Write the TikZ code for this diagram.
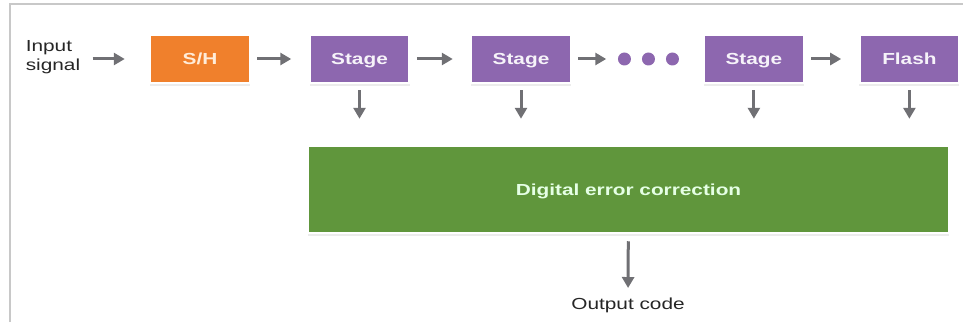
\documentclass[tikz,border=0pt]{standalone}
\usepackage{fontspec}
\setmainfont{Liberation Sans}[FakeStretch=1.3]
\usetikzlibrary{positioning,arrows.meta,shadows}
\definecolor{shorange}{RGB}{240,128,44}
\definecolor{stpurple}{RGB}{141,103,175}
\definecolor{decgreen}{RGB}{96,150,60}
\definecolor{arrowgray}{RGB}{112,112,116}
\definecolor{framegray}{RGB}{200,200,200}

\begin{document}
\begin{tikzpicture}[x=1pt,y=1pt,
  blk/.style={rectangle, minimum width=100pt, minimum height=48pt, draw=white,
    line width=2.5pt, drop shadow={opacity=0.15,shadow xshift=0pt,shadow yshift=-2.5pt},
    text height=11.5pt, text depth=0pt,
    font=\fontsize{16}{19}\selectfont\bfseries},
  shbox/.style={blk, fill=shorange, text=orange!15},
  stbox/.style={blk, fill=stpurple, text=stpurple!8},
  flow/.style={draw=arrowgray, line width=3pt, -{Triangle[length=11pt,width=12pt]},
    shorten <=6pt, shorten >=17pt},
  down/.style={flow, shorten >=26pt},
  lbl/.style={font=\fontsize{16}{19}\selectfont, text=black!85}
]
  \useasboundingbox (0,0) rectangle (963,322);
  % frame
  \draw[framegray, line width=2pt] (10,0) -- (10,318) -- (963,318);

  \node[lbl, align=left] (in) at (53,265) {Input\\signal};
  \node[shbox] (sh) at (200,263) {S/H};
  \node[stbox, right=57pt of sh] (s1) {Stage};
  \node[stbox, right=59pt of s1] (s2) {Stage};
  \node[minimum width=62pt, minimum height=12pt, right=45pt of s2] (dots) {};
  \foreach \i in {-24,0,24}
    \fill[stpurple] (dots.center) ++(\i,0) circle (6.5pt);
  \node[stbox, right=23pt of dots] (s3) {Stage};
  \node[stbox, right=53pt of s3] (fl) {Flash};

  \node[blk, fill=decgreen, text=green!10, minimum width=641pt, minimum height=87pt]
    (dec) at (628.5,132.5) {Digital error correction};
  \node[lbl] (out) at (628,17) {Output code};

  \draw[flow, shorten <=9pt, shorten >=24pt] (in.east |- sh.west) -- (sh.west);
  \draw[flow] (sh) -- (s1);
  \draw[flow] (s1) -- (s2);
  \draw[flow, shorten >=11pt] (s2) -- (dots);
  \draw[flow] (s3) -- (fl);
  \foreach \s in {s1,s2,s3,fl}
    \draw[down] (\s.south) -- (\s.south |- dec.north);
  \draw[flow, shorten <=7pt, shorten >=6pt] (dec) -- (out);
\end{tikzpicture}
\end{document}
